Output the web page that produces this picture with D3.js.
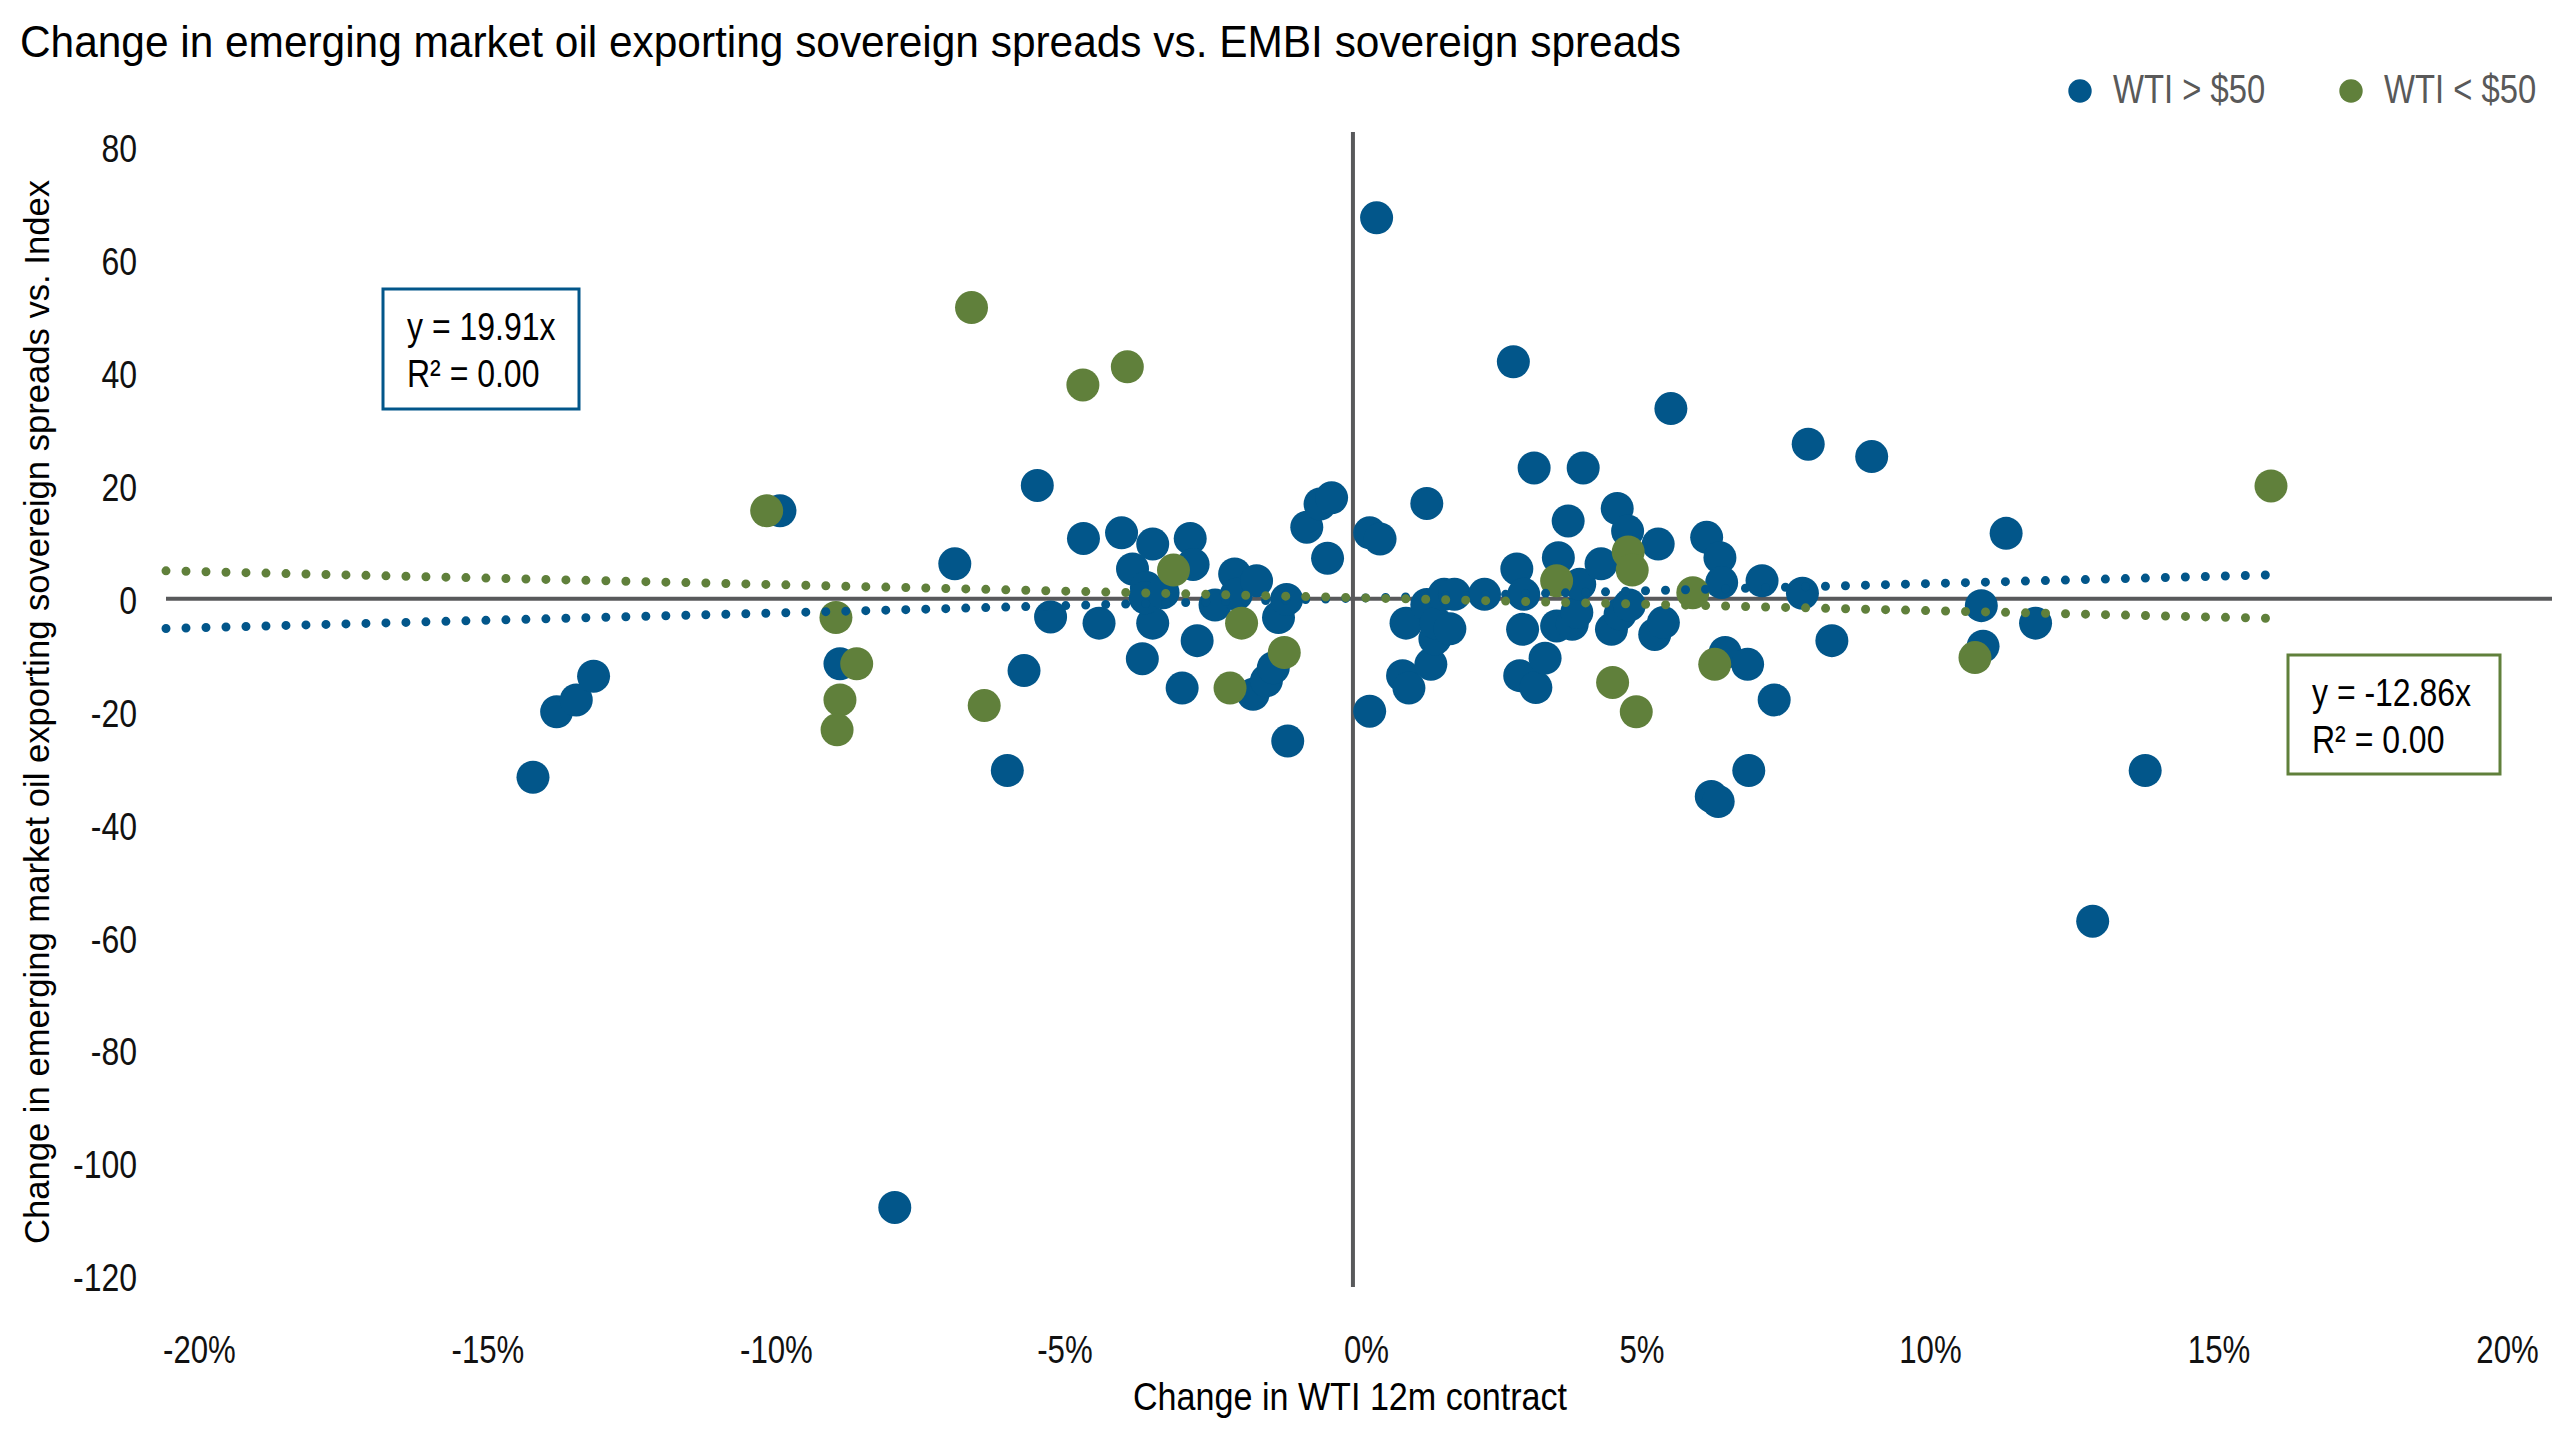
<!DOCTYPE html>
<html>
<head>
<meta charset="utf-8">
<script src="https://cdn.jsdelivr.net/npm/d3@7"></script>
<style>
body{margin:0;background:#fff;}
</style>
</head>
<body>
<script>
//begin data
var highX=[-14.21,-13.80,-13.46,-13.16,-9.93,-8.89,-7.94,-6.90,-5.99,-5.70,-5.47,-5.24,-4.67,-4.40,-4.01,-3.82,-3.65,-3.58,-3.47,-3.47,-3.60,-3.29,-2.96,-2.82,-2.77,-2.70,-2.39,-2.05,-2.02,-1.73,-1.67,-1.50,-1.38,-1.29,-1.15,-1.13,-0.80,-0.57,-0.44,-0.37,
           0.29,0.47,0.29,0.41,0.86,0.92,0.97,1.28,1.28,1.35,1.42,1.44,1.58,1.68,1.76,2.28,2.78,2.84,2.89,2.94,2.96,3.14,3.17,3.33,3.53,3.56,3.73,3.80,3.88,3.93,3.99,4.30,4.48,4.58,4.63,4.76,4.79,5.23,5.29,5.38,5.51,6.13,6.21,6.33,6.36,6.39,6.45,6.84,6.86,7.09,7.30,7.79,7.89,8.30,8.99,10.89,10.92,11.32,11.83,12.82,13.73];
var highY=[-31.6,-20.0,-17.9,-13.7,15.6,-11.5,-107.8,6.2,-30.4,-12.7,20.1,-3.2,10.7,-4.3,11.7,5.3,-10.6,2.0,9.7,-4.3,0.2,1.1,-15.8,10.7,6.1,-7.4,-1.1,4.4,0.8,-16.9,3.2,-14.5,-12.2,-3.3,-0.1,-25.2,12.7,16.8,7.2,17.9,
           11.7,10.6,-19.9,67.5,-13.6,-4.3,-15.8,16.9,-1.0,-11.6,-7.1,-4.3,0.8,-5.3,0.8,0.8,42.0,5.3,-13.6,-5.4,0.8,23.2,-15.7,-10.5,-4.8,7.3,13.8,-4.5,-2.4,2.6,23.2,6.2,-5.4,16.0,-2.7,12.0,-1.1,-6.3,9.7,-4.2,33.7,10.9,-35.0,-35.9,7.3,2.9,-9.5,-11.6,-30.4,3.2,-17.9,1.0,27.4,-7.4,25.2,-1.2,-8.4,11.6,-4.3,-57.1,-30.4];
var lowX=[-10.16,-8.96,-8.60,-8.89,-8.94,-6.61,-6.39,-4.68,-3.91,-3.11,-2.13,-1.93,-1.19,3.53,4.50,4.77,4.84,4.91,5.89,6.27,10.78,15.91];
var lowY=[15.6,-3.3,-11.5,-17.9,-23.2,51.6,-18.9,37.9,41.1,5.1,-15.8,-4.3,-9.5,3.2,-14.8,8.3,5.1,-20.0,1.1,-11.6,-10.4,20.0];
var trendHighX=[-20.57,16.1], trendHighY=[-5.25,4.3];
var trendLowX=[-20.57,16.1], trendLowY=[4.96,-3.5];
var xTicks=[-20,-15,-10,-5,0,5,10,15,20];
var yTicks=[-120,-100,-80,-60,-40,-20,0,20,40,60,80];
var seriesNames=["WTI > $50","WTI < $50"];
var eqHigh=["y = 19.91x","R\u00b2 = 0.00"];
var eqLow=["y = -12.86x","R\u00b2 = 0.00"];
var titleText="Change in emerging market oil exporting sovereign spreads vs. EMBI sovereign spreads";
var xTitle="Change in WTI 12m contract";
var yTitle="Change in emerging market oil exporting sovereign spreads vs. Index";
//end data

var W=2560,H=1440;
var blue="#02568a",green="#60803b",axisCol="#58595b";
var sans='"Liberation Sans",Arial,sans-serif';

var svg=d3.select("body").append("svg")
    .attr("width",W)
    .attr("height",H)
    .style("background","#fff");

//squeeze text sideways, like a narrow face
function narrow(sel,k){
    sel.each(function(){
        var t=d3.select(this);
        t.attr("textLength",this.getComputedTextLength()*k)
         .attr("lengthAdjust","spacingAndGlyphs");
    });
}

var x=d3.scaleLinear().domain([-20.57,20.78]).range([166,2552]);
var y=d3.scaleLinear().domain([-121.9,82.7]).range([1287,132]);

//title
svg.append("text")
    .attr("x",20)
    .attr("y",57)
    .attr("textLength",1661)
    .attr("lengthAdjust","spacingAndGlyphs")
    .style("font-family",sans)
    .style("font-size","45px")
    .style("fill","#000")
    .text(titleText);

//axes labels
var xAxis=svg.append("g")
    .attr("transform","translate(0,1287)")
    .call(d3.axisBottom(x).tickValues(xTicks).tickSize(0).tickPadding(49)
        .tickFormat(function(d){return d+"%";}));
xAxis.select(".domain").remove();
xAxis.selectAll("text")
    .attr("dx",function(d){return d===0?13:0;})
    .style("font-family",sans)
    .style("font-size","38px")
    .style("fill","#111")
    .call(narrow,0.82);

var yAxis=svg.append("g")
    .attr("transform","translate(147,0)")
    .call(d3.axisLeft(y).tickValues(yTicks).tickSize(0).tickPadding(10)
        .tickFormat(function(d){return String(d);}));
yAxis.select(".domain").remove();
yAxis.selectAll("text")
    .attr("dy","0.37em")
    .style("font-family",sans)
    .style("font-size","39px")
    .style("fill","#111")
    .call(narrow,0.82);

svg.append("text")
    .attr("x",1350)
    .attr("y",1410)
    .attr("text-anchor","middle")
    .attr("textLength",434)
    .attr("lengthAdjust","spacingAndGlyphs")
    .style("font-family",sans)
    .style("font-size","38px")
    .style("fill","#000")
    .text(xTitle);

svg.append("text")
    .attr("transform","translate(49,712) rotate(-90)")
    .attr("text-anchor","middle")
    .attr("textLength",1064)
    .attr("lengthAdjust","spacingAndGlyphs")
    .style("font-family",sans)
    .style("font-size","34.5px")
    .style("fill","#000")
    .text(yTitle);

//zero lines
svg.append("line")
    .attr("x1",x(-20.57)).attr("x2",x(20.78))
    .attr("y1",y(0)).attr("y2",y(0))
    .style("stroke",axisCol).style("stroke-width",4);
svg.append("line")
    .attr("x1",x(0)).attr("x2",x(0))
    .attr("y1",y(82.7)).attr("y2",y(-121.9))
    .style("stroke",axisCol).style("stroke-width",4);

//points
function dots(xs,ys,col){
    svg.append("g").selectAll("circle")
        .data(xs.map(function(v,i){return {x:v,y:ys[i]};}))
        .enter().append("circle")
        .attr("cx",function(d){return x(d.x);})
        .attr("cy",function(d){return y(d.y);})
        .attr("r",16.5)
        .attr("fill",col);
}
dots(highX,highY,blue);
dots(lowX,lowY,green);

//trendlines
var line=d3.line().x(function(d){return x(d[0]);}).y(function(d){return y(d[1]);});
function trend(xs,ys,col){
    svg.append("path")
        .attr("d",line(xs.map(function(v,i){return [v,ys[i]];})))
        .style("fill","none")
        .style("stroke",col)
        .style("stroke-width",9)
        .style("stroke-linecap","round")
        .style("stroke-dasharray","0 20");
}
trend(trendHighX,trendHighY,blue);
trend(trendLowX,trendLowY,green);

//equation boxes
function eqBox(bx,by,bw,bh,col,lines){
    svg.append("rect")
        .attr("x",bx).attr("y",by)
        .attr("width",bw).attr("height",bh)
        .style("fill","#fff")
        .style("stroke",col)
        .style("stroke-width",3);
    svg.selectAll(null)
        .data(lines)
        .enter().append("text")
        .attr("x",bx+24)
        .attr("y",function(d,i){return by+51+i*47;})
        .style("font-family",sans)
        .style("font-size","39px")
        .style("fill","#000")
        .text(function(d){return d;})
        .call(narrow,0.82);
}
eqBox(383,289,196,120,blue,eqHigh);
eqBox(2288,655,212,119,green,eqLow);

//legend
var legCol=[blue,green],legX=[2080,2351];
var leg=svg.selectAll(".leg")
    .data(seriesNames)
    .enter().append("g")
    .attr("class","leg")
    .attr("transform",function(d,i){return "translate("+legX[i]+",91)";});
leg.append("circle")
    .attr("r",11.7)
    .attr("fill",function(d,i){return legCol[i];});
leg.append("g")
    .attr("transform","translate(33,12) scale(0.82,1)")
    .append("text")
    .style("font-family",sans)
    .style("font-size","40px")
    .style("fill","#595959")
    .text(function(d){return d;});
</script>
</body>
</html>
